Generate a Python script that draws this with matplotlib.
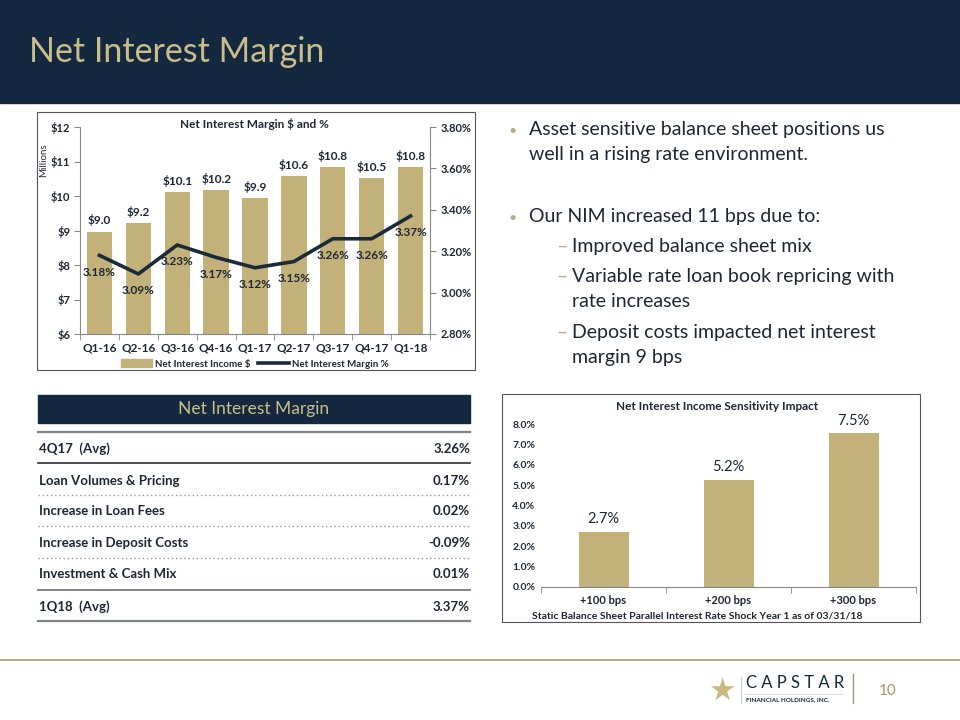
import matplotlib
matplotlib.use("Agg")
import matplotlib.pyplot as plt
from matplotlib.patches import Rectangle
from matplotlib.lines import Line2D
from matplotlib.ticker import FixedLocator, FuncFormatter

plt.rcParams['font.family'] = ['Lato', 'DejaVu Sans']
plt.rcParams['text.parse_math'] = False

NAVY = "#14293f"
GOLD = "#c2b27a"
GOLD_TXT = "#c9bd8b"
DARK = "#1d2633"
LINE_NAVY = "#1b2a38"

# data - top left chart
quarters = ["Q1-16", "Q2-16", "Q3-16", "Q4-16", "Q1-17", "Q2-17", "Q3-17", "Q4-17", "Q1-18"]
nii = [8.96, 9.21, 10.11, 10.16, 9.93, 10.57, 10.83, 10.51, 10.83]
nim = [3.18, 3.09, 3.23, 3.17, 3.12, 3.15, 3.26, 3.26, 3.37]

# data - table
table_title = "Net Interest Margin"
table_labels = ["4Q17  (Avg)", "Loan Volumes & Pricing", "Increase in Loan Fees",
                "Increase in Deposit Costs", "Investment & Cash Mix", "1Q18  (Avg)"]
table_values = ["3.26%", "0.17%", "0.02%", "-0.09%", "0.01%", "3.37%"]

# data - sensitivity chart
shocks = ["+100 bps", "+200 bps", "+300 bps"]
sens = [2.7, 5.25, 7.55]

bullets = ["Asset sensitive balance sheet positions us\nwell in a rising rate environment.",
           "Our NIM increased 11 bps due to:"]
subbullets = ["Improved balance sheet mix",
              "Variable rate loan book repricing with\nrate increases",
              "Deposit costs impacted net interest\nmargin 9 bps"]

fig = plt.figure(figsize=(9.6, 7.2), dpi=100)
W, H = 960, 720


def rect(x0, y0, x1, y1):
    return [x0 / W, 1 - y1 / H, (x1 - x0) / W, (y1 - y0) / H]


# background axes in pixel coords
bg = fig.add_axes([0, 0, 1, 1], zorder=0)
bg.set_xlim(0, W)
bg.set_ylim(H, 0)
bg.axis("off")

# header
bg.add_patch(Rectangle((0, 0), W, 103, color=NAVY))
bg.text(29, 52, "Net Interest Margin", color=GOLD_TXT, fontsize=24.5, va="center", ha="left")

# chart frames
bg.add_patch(Rectangle((37, 112), 438, 258, fill=False, ec="#555555", lw=0.8))
bg.add_patch(Rectangle((502, 394), 418, 228, fill=False, ec="#555555", lw=0.8))

# bullets on the right
ys = [131, 218]
for y, txt in zip(ys, bullets):
    bg.text(513, y, "•", color="#b5ab86", fontsize=10, va="center", ha="center")
    bg.text(529, y - 10, txt, color=DARK, fontsize=14, va="top", ha="left", linespacing=1.6)
sub_ys = [248, 278, 334]
for y, txt in zip(sub_ys, subbullets):
    bg.text(556, y - 2, "–", color="#b5ab86", fontsize=14, va="center", ha="left")
    bg.text(572, y - 10, txt, color=DARK, fontsize=14, va="top", ha="left", linespacing=1.6)

# table
bg.add_patch(Rectangle((38, 395), 432, 28, color=NAVY))
bg.text(254, 409, table_title, color=GOLD_TXT, fontsize=12.5, ha="center", va="center")
row_ys = [449, 481, 511, 543, 574, 607]
for y, lab, val in zip(row_ys, table_labels, table_values):
    bg.text(39, y, lab, color=DARK, fontsize=9.5, fontweight="bold", ha="left", va="center")
    bg.text(470, y, val, color=DARK, fontsize=9.5, fontweight="bold", ha="right", va="center")
bg.plot([38, 470], [432, 432], color="#7f8388", lw=1.6)
bg.plot([38, 470], [463, 463], color="#2b2f36", lw=1.2)
for y in [495, 526, 558]:
    bg.plot([38, 470], [y, y], color="#9a9a9a", lw=1, ls=(0, (1, 2)))
bg.plot([38, 470], [590, 590], color="#7f8388", lw=1.4)
bg.plot([38, 470], [621, 621], color="#7f8388", lw=1.6)

# footer
bg.plot([0, W], [660, 660], color="#a4986a", lw=1.2)
bg.text(722, 691, "★", color="#c9b97d", fontsize=22, ha="center", va="center", family="DejaVu Sans")
bg.plot([741, 741], [677, 703], color="#cfcfcf", lw=0.8)
bg.text(746, 683, "C A P S T A R", color=NAVY, fontsize=12, ha="left", va="center")
bg.plot([745, 843], [694, 694], color="#d8d8d8", lw=0.6)
bg.text(746, 700, "FINANCIAL HOLDINGS, INC.", color=NAVY, fontsize=4.6, fontweight="bold",
        ha="left", va="center")
bg.plot([853, 853], [674, 703], color="#a4986a", lw=1)
bg.text(888, 691, "10", color="#a4986a", fontsize=11, ha="center", va="center")

# ---- left chart ----
ax = fig.add_axes(rect(80, 127, 430, 334), zorder=2)
ax.patch.set_alpha(0)
x = list(range(len(quarters)))
ax.bar(x, nii, width=0.65, color=GOLD, zorder=2)
ax.set_ylim(6, 12)
ax.set_xlim(-0.5, len(quarters) - 0.5)
ax.set_yticks(range(6, 13))
ax.yaxis.set_major_formatter(FuncFormatter(lambda v, p: f"${v:.0f}"))
ax.set_xticks(x)
ax.set_xticklabels(quarters)
ax.xaxis.set_minor_locator(FixedLocator([i - 0.5 for i in range(len(quarters) + 1)]))
ax.tick_params(axis="x", which="major", length=0, labelsize=8.5, pad=6, colors=DARK)
ax.tick_params(axis="x", which="minor", length=4, color="#888888")
ax.tick_params(axis="y", length=4, labelsize=8, pad=3, colors=DARK, color="#888888")
for lab in ax.get_xticklabels() + ax.get_yticklabels():
    lab.set_fontweight("bold")
for s in ["top", "right"]:
    ax.spines[s].set_visible(False)
for s in ["left", "bottom"]:
    ax.spines[s].set_color("#888888")
for xi, v in zip(x, nii):
    ax.annotate(f"${v:.1f}", (xi, v), xytext=(0, 4), textcoords="offset points",
                ha="center", va="bottom", fontsize=8.5, fontweight="bold", color=DARK)

ax2 = ax.twinx()
ax2.set_zorder(3)
ax2.plot(x, nim, color=LINE_NAVY, lw=2.6)
ax2.set_ylim(2.8, 3.8)
ax2.set_yticks([2.8, 3.0, 3.2, 3.4, 3.6, 3.8])
ax2.yaxis.set_major_formatter(FuncFormatter(lambda v, p: f"{v:.2f}%"))
ax2.tick_params(axis="y", length=4, labelsize=8, colors=DARK, color="#888888")
for lab in ax2.get_yticklabels():
    lab.set_fontweight("bold")
for s in ["top", "left", "bottom"]:
    ax2.spines[s].set_visible(False)
ax2.spines["right"].set_color("#888888")
for xi, v in zip(x, nim):
    ax2.annotate(f"{v:.2f}%", (xi, v), xytext=(0, -12), textcoords="offset points",
                 ha="center", va="center", fontsize=8.5, fontweight="bold", color=DARK)

bg.text(254, 124, "Net Interest Margin $ and %", fontsize=8.5, fontweight="bold",
        ha="center", va="center", color=DARK)
bg.text(44, 160, "Millions", fontsize=7, rotation=90, ha="center", va="center", color=DARK)

handles = [Rectangle((0, 0), 1, 1, color=GOLD), Line2D([0], [0], color=LINE_NAVY, lw=2.6)]
fig.legend(handles, ["Net Interest Income $", "Net Interest Margin %"],
           loc="center", bbox_to_anchor=(255 / W, 1 - 364 / H), ncol=2, frameon=False,
           prop={"size": 7, "weight": "bold"}, handlelength=3.2, handleheight=0.9,
           columnspacing=0.8, handletextpad=0.3, labelcolor=DARK)

# ---- right bottom chart ----
bx = fig.add_axes(rect(541, 424, 916, 587), zorder=2)
bx.patch.set_alpha(0)
xs = list(range(len(shocks)))
bx.bar(xs, sens, width=0.4, color=GOLD)
bx.set_ylim(0, 8)
bx.set_xlim(-0.5, len(shocks) - 0.5)
bx.set_yticks(range(0, 9))
bx.yaxis.set_major_formatter(FuncFormatter(lambda v, p: f"{v:.1f}%"))
bx.set_xticks(xs)
bx.set_xticklabels(shocks)
bx.xaxis.set_minor_locator(FixedLocator([i - 0.5 for i in range(len(shocks) + 1)]))
bx.tick_params(axis="x", which="major", length=0, labelsize=8, pad=6, colors=DARK)
bx.tick_params(axis="x", which="minor", length=4, color="#888888")
bx.tick_params(axis="y", length=0, labelsize=7.5, colors=DARK, pad=4)
for lab in bx.get_xticklabels() + bx.get_yticklabels():
    lab.set_fontweight("bold")
for s in ["top", "right"]:
    bx.spines[s].set_visible(False)
bx.spines["left"].set_visible(False)
bx.spines["bottom"].set_color("#888888")
for xi, v in zip(xs, sens):
    bx.annotate(f"{v:.1f}%", (xi, v), xytext=(0, 4), textcoords="offset points",
                ha="center", va="bottom", fontsize=10.5, color=DARK)

bg.text(717, 406, "Net Interest Income Sensitivity Impact", fontsize=8.5, fontweight="bold",
        ha="center", va="center", color=DARK)
bg.text(697, 616, "Static Balance Sheet Parallel Interest Rate Shock Year 1 as of 03/31/18",
        fontsize=7.5, fontweight="bold", ha="center", va="center", color=DARK)

fig.savefig("out.png", dpi=100)
